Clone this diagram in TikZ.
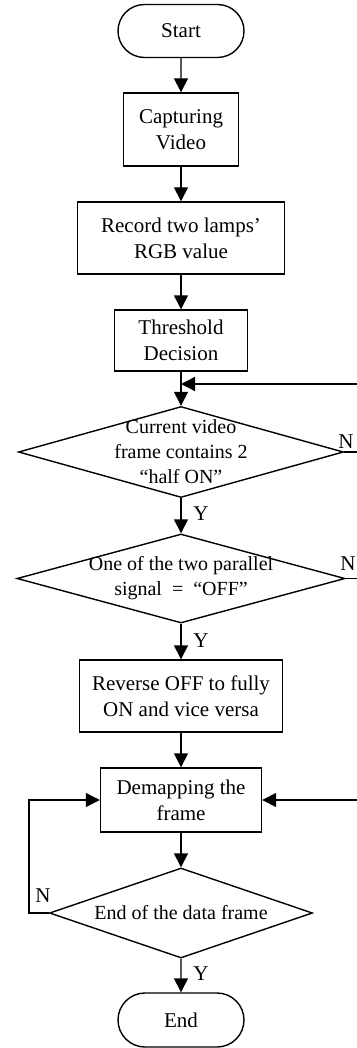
\documentclass[tikz,border=0pt]{standalone}
\usepackage{fontspec}
\setmainfont{Liberation Serif}
\usetikzlibrary{
  arrows.meta,
  positioning,
  shapes.geometric,
  shapes.misc,
}
\tikzset{
  terminal/.style={
    rounded rectangle, draw, line width=0.7pt, inner sep=2pt,
    font=\fontsize{10.5}{13}\selectfont,
  },
  process/.style={
    rectangle, draw, line width=0.7pt, inner sep=2pt, align=center,
    font=\fontsize{10.5}{13}\selectfont,
  },
  decision/.style={
    diamond, draw, line width=0.7pt, inner sep=0pt,
  },
  dtext/.style={
    align=center, inner sep=0pt, font=\fontsize{10}{12.5}\selectfont,
  },
  answer/.style={inner sep=1pt, font=\fontsize{10.5}{12}\selectfont},
  arrowMain/.style={
    -{Triangle[length=7pt,width=7pt]}, line width=0.7pt,
  },
  lineMain/.style={line width=0.7pt},
}

\begin{document}
\begin{tikzpicture}[x=0.5pt,y=-0.5pt]
\useasboundingbox (0,0) rectangle (357,1048);

% main column
\node[terminal, minimum width=67pt, minimum height=26.5pt] (start) at (181,31) {Start};
\node[process, minimum width=57.5pt, minimum height=36.5pt] (capture) at (181,129.5) {Capturing\\Video};
\node[process, minimum width=103.5pt, minimum height=36pt] (record) at (181,238) {Record two lamps'\\RGB value};
\node[process, minimum width=66.5pt, minimum height=30.5pt] (thresh) at (181,340.5) {Threshold\\Decision};
\node[decision, minimum width=162.5pt, minimum height=45.5pt] (halfon) at (181,452) {};
\node[dtext] (halfonText) at (halfon) {Current video\\frame contains 2\\``half ON''};
\node[decision, minimum width=164pt, minimum height=44.5pt] (offsig) at (181,578.5) {};
\node[dtext] (offsigText) at (offsig) {One of the two parallel\\signal\ \ =\ \ ``OFF''};
\node[process, minimum width=101.5pt, minimum height=36pt] (reverse) at (181,696) {Reverse OFF to fully\\ON and vice versa};
\node[process, minimum width=80.5pt, minimum height=32pt] (demap) at (181,800) {Demapping the\\frame};
\node[decision, minimum width=131.5pt, minimum height=45pt] (endframe) at (181,913) {};
\node[dtext] (endframeText) at (endframe) {End of the data frame};
\node[terminal, minimum width=67pt, minimum height=27pt] (end) at (181,1020) {End};

% loop points
\coordinate (merge) at (181,384);
\coordinate (backIn) at (357,384);
\coordinate (halfonOut) at (357,452);
\coordinate (offsigOut) at (357,578.5);
\coordinate (demapIn) at (357,800);
\coordinate (loopLeft) at (29,856);

% arrows
\draw[arrowMain] (start) -- (capture);
\draw[arrowMain] (capture) -- (record);
\draw[arrowMain] (record) -- (thresh);
\draw[arrowMain] (thresh) -- (halfon);
\draw[arrowMain] (backIn) -- (merge);
\draw[arrowMain] (halfon) -- (offsig);
\draw[arrowMain] (offsig) -- (reverse);
\draw[arrowMain] (reverse) -- (demap);
\draw[arrowMain] (demap) -- (endframe);
\draw[arrowMain] (endframe) -- (end);
\draw[lineMain] (halfon.east) -- (halfonOut);
\draw[lineMain] (offsig.east) -- (offsigOut);
\draw[arrowMain] (demapIn) -- (demap.east);
\draw[arrowMain] (endframe.west) -| (loopLeft) |- (demap.west);

% Y / N
\node[answer] (halfonN) at (346,442) {N};
\node[answer] (halfonY) at (201,514) {Y};
\node[answer] (offsigN) at (348,564) {N};
\node[answer] (offsigY) at (201,641) {Y};
\node[answer] (endframeN) at (43,896) {N};
\node[answer] (endframeY) at (201,974) {Y};
\end{tikzpicture}
\end{document}
